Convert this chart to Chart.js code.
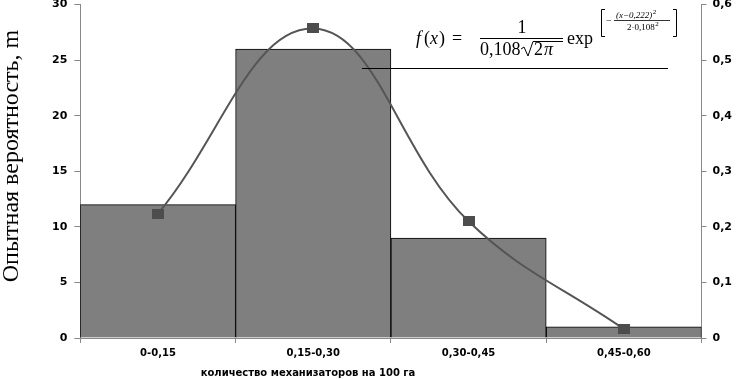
<!DOCTYPE html>
<html>
<head>
<meta charset="utf-8">
<script src="https://cdn.jsdelivr.net/npm/chart.js@4"></script>
<style>
  html, body { margin: 0; padding: 0; background: #fff; overflow: hidden; }
  #wrap { position: relative; width: 738px; height: 379px; overflow: hidden; }
  #chart { position: absolute; left: 0; top: -9px; }
</style>
</head>
<body>
<div id="wrap"><canvas id="chart" width="738" height="388"></canvas></div>
<script>
const categories = ['0-0,15', '0,15-0,30', '0,30-0,45', '0,45-0,60']
const frequencies = [12, 26, 9, 1]
const probabilities = [0.224, 0.557, 0.21, 0.016]
const leftTitle = 'Опытная вероятность, m'
const bottomTitle = 'количество механизаторов на 100 га'

const SHIFT = 9 // canvas sits 9px above the page so the top label is cut like in Excel
const tickFont = { family: 'DejaVu Sans', weight: 'bold', size: 10 }
const yTickFont = { family: 'DejaVu Sans', weight: 'bold', size: 11 }

// marker: small dark rectangle like Excel's square marker
const marker = document.createElement('canvas')
marker.width = 12
marker.height = 10
const mctx = marker.getContext('2d')
mctx.fillStyle = '#4d4d4d'
mctx.fillRect(0, 0, 12, 10)

// writes text and a superscript "2" right after it
function withSquare(ctx, text, x, y, font, supFont, supRise){
    ctx.font = font
    ctx.textAlign = 'left'
    ctx.fillText(text, x, y)
    const w = ctx.measureText(text).width
    ctx.font = supFont
    ctx.fillText('2', x + w + 0.5, y - supRise)
    return w
}

const textPlugin = {
    id: 'texts',
    afterDraw(chart){
        const ctx = chart.ctx
        ctx.save()
        ctx.translate(0, SHIFT)
        ctx.fillStyle = '#000'
        ctx.strokeStyle = '#000'

        // axis titles
        ctx.save()
        ctx.translate(12, 156)
        ctx.rotate(-Math.PI / 2)
        ctx.font = '24px "Liberation Serif"'
        ctx.textAlign = 'center'
        ctx.textBaseline = 'middle'
        ctx.fillText(leftTitle, 0, 0)
        ctx.restore()

        ctx.font = 'bold 10px "DejaVu Sans"'
        ctx.textAlign = 'center'
        ctx.textBaseline = 'middle'
        ctx.fillText(bottomTitle, 308, 373)

        // leader line to the formula
        ctx.lineWidth = 1
        ctx.beginPath()
        ctx.moveTo(362, 68.5)
        ctx.lineTo(668, 68.5)
        ctx.stroke()

        // formula
        ctx.textBaseline = 'alphabetic'
        ctx.textAlign = 'left'
        ctx.font = 'italic 18px "Liberation Serif"'
        ctx.fillText('f', 416, 44)
        ctx.font = '18px "Liberation Serif"'
        ctx.fillText('(', 424, 44)
        ctx.font = 'italic 18px "Liberation Serif"'
        ctx.fillText('x', 430, 44)
        ctx.font = '18px "Liberation Serif"'
        ctx.fillText(')', 439, 44)
        ctx.fillText('=', 452, 44)

        ctx.textAlign = 'center'
        ctx.fillText('1', 522, 33)
        ctx.beginPath()
        ctx.moveTo(480, 38.5)
        ctx.lineTo(563, 38.5)
        ctx.stroke()
        ctx.textAlign = 'left'
        ctx.fillText('0,108', 480, 55)
        // sqrt sign
        ctx.beginPath()
        ctx.moveTo(521, 49)
        ctx.lineTo(524, 47)
        ctx.lineTo(528, 56)
        ctx.lineTo(533, 41.5)
        ctx.lineTo(563, 41.5)
        ctx.stroke()
        ctx.fillText('2', 534, 55)
        ctx.font = 'italic 18px "Liberation Serif"'
        ctx.fillText('π', 544, 55)
        ctx.font = '18px "Liberation Serif"'
        ctx.fillText('exp', 567, 44)

        // brackets
        ctx.lineWidth = 1
        ctx.beginPath()
        ctx.moveTo(605, 9.5); ctx.lineTo(601.5, 9.5); ctx.lineTo(601.5, 36.5); ctx.lineTo(605, 36.5)
        ctx.moveTo(673, 9.5); ctx.lineTo(676.5, 9.5); ctx.lineTo(676.5, 36.5); ctx.lineTo(673, 36.5)
        ctx.stroke()

        // exponent
        ctx.font = '10px "Liberation Serif"'
        ctx.fillText('−', 606, 24)
        withSquare(ctx, '(x−0,222)', 616, 18, 'italic 9px "Liberation Serif"', '7px "Liberation Serif"', 4)
        ctx.beginPath()
        ctx.moveTo(614, 20.5)
        ctx.lineTo(670, 20.5)
        ctx.lineWidth = 0.8
        ctx.stroke()
        withSquare(ctx, '2·0,108', 627, 30, '9px "Liberation Serif"', '7px "Liberation Serif"', 4)
        ctx.restore()
    }
}

const chart = new Chart(document.getElementById('chart'), {
    data: {
        labels: categories,
        datasets: [{
            type: 'line',
            data: probabilities,
            yAxisID: 'y1',
            borderColor: '#555',
            borderWidth: 2,
            tension: 0.4,
            pointStyle: marker,
            order: 0
        }, {
            type: 'bar',
            data: frequencies,
            yAxisID: 'y',
            backgroundColor: '#7f7f7f',
            borderColor: '#000',
            borderWidth: 1,
            barPercentage: 1,
            categoryPercentage: 1,
            order: 1
        }]
    },
    options: {
        responsive: false,
        animation: false,
        devicePixelRatio: 1,
        layout: { padding: { left: 45, right: 0, top: 0, bottom: 16 } },
        plugins: { legend: { display: false }, tooltip: { enabled: false } },
        scales: {
            x: {
                grid: { drawOnChartArea: false, tickLength: 5, color: '#888', offset: true },
                border: { color: '#888' },
                ticks: { font: tickFont, color: '#000', padding: 4 }
            },
            y: {
                position: 'left',
                min: 0,
                max: 30,
                grid: { drawOnChartArea: false, tickLength: 6, color: '#888' },
                border: { color: '#888' },
                ticks: { stepSize: 5, font: yTickFont, color: '#000', padding: 7 }
            },
            y1: {
                position: 'right',
                min: 0,
                max: 0.6,
                grid: { drawOnChartArea: false, tickLength: 5, color: '#888' },
                border: { color: '#888' },
                ticks: {
                    stepSize: 0.1,
                    font: yTickFont,
                    color: '#000',
                    padding: 6,
                    callback: v => v === 0 ? '0' : v.toFixed(1).replace('.', ',')
                }
            }
        }
    },
    plugins: [textPlugin]
})
</script>
</body>
</html>
